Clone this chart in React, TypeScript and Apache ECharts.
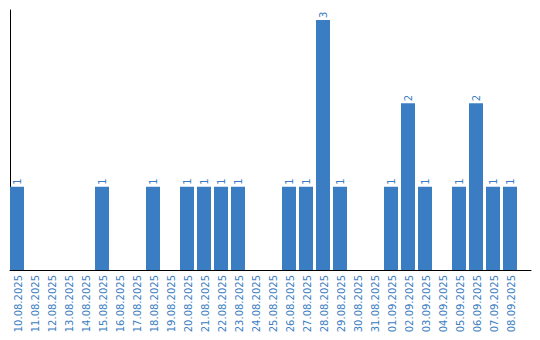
import React, { useEffect, useRef } from "react";
import * as echarts from "echarts";

const categories = [
  "10.08.2025", "11.08.2025", "12.08.2025", "13.08.2025", "14.08.2025",
  "15.08.2025", "16.08.2025", "17.08.2025", "18.08.2025", "19.08.2025",
  "20.08.2025", "21.08.2025", "22.08.2025", "23.08.2025", "24.08.2025",
  "25.08.2025", "26.08.2025", "27.08.2025", "28.08.2025", "29.08.2025",
  "30.08.2025", "31.08.2025", "01.09.2025", "02.09.2025", "03.09.2025",
  "04.09.2025", "05.09.2025", "06.09.2025", "07.09.2025", "08.09.2025",
];

const counts = [
  1, 0, 0, 0, 0, 1, 0, 0, 1, 0,
  1, 1, 1, 1, 0, 0, 1, 1, 3, 1,
  0, 0, 1, 2, 1, 0, 1, 2, 1, 1,
];

const BLUE = "#3b7dc2";
const FONT = "DejaVu Sans";

export default function App() {
  const ref = useRef<HTMLDivElement>(null);
  useEffect(() => {
    if (!ref.current) return;
    const chart = echarts.init(ref.current, null, { renderer: "svg" });
    chart.setOption({
      animation: false,
      grid: [
        { left: 10, top: 10, width: 510, height: 260, containLabel: false },
        { left: 10, top: 10, width: 521, height: 260, containLabel: false },
      ],
      xAxis: [
        {
          type: "category",
          gridIndex: 0,
          data: categories,
          axisLine: { show: false },
          axisTick: { show: false },
          axisLabel: {
            rotate: 90,
            interval: 0,
            color: BLUE,
            fontSize: 10,
            fontFamily: FONT,
            margin: 5,
          },
        },
        {
          type: "value",
          gridIndex: 1,
          min: 0,
          max: 1,
          axisLine: { show: true, lineStyle: { color: "#000", width: 1 } },
          axisTick: { show: false },
          axisLabel: { show: false },
          splitLine: { show: false },
        },
      ],
      yAxis: [
        {
          type: "value",
          gridIndex: 0,
          min: 0,
          max: 3.12,
          axisLine: { show: false },
          axisTick: { show: false },
          axisLabel: { show: false },
          splitLine: { show: false },
        },
        {
          type: "value",
          gridIndex: 1,
          min: 0,
          max: 1,
          axisLine: { show: true, lineStyle: { color: "#000", width: 1 } },
          axisTick: { show: false },
          axisLabel: { show: false },
          splitLine: { show: false },
        },
      ],
      series: [
        {
          type: "bar",
          xAxisIndex: 0,
          yAxisIndex: 0,
          data: counts,
          barWidth: 14,
          barGap: 0,
          itemStyle: { color: BLUE },
          label: {
            show: true,
            position: "top",
            rotate: 90,
            align: "left",
            verticalAlign: "middle",
            distance: 2,
            color: BLUE,
            fontSize: 10,
            fontFamily: FONT,
            formatter: (p: any) => (p.value ? String(p.value) : ""),
          },
        },
        {
          type: "bar",
          xAxisIndex: 0,
          yAxisIndex: 0,
          data: categories.map(() => "-"),
          barWidth: 3,
          barGap: 0,
          itemStyle: { color: "transparent" },
          silent: true,
        },
      ],
    });
    return () => chart.dispose();
  }, []);
  return <div ref={ref} style={{ width: 540, height: 340, margin: -8 }} />;
}
